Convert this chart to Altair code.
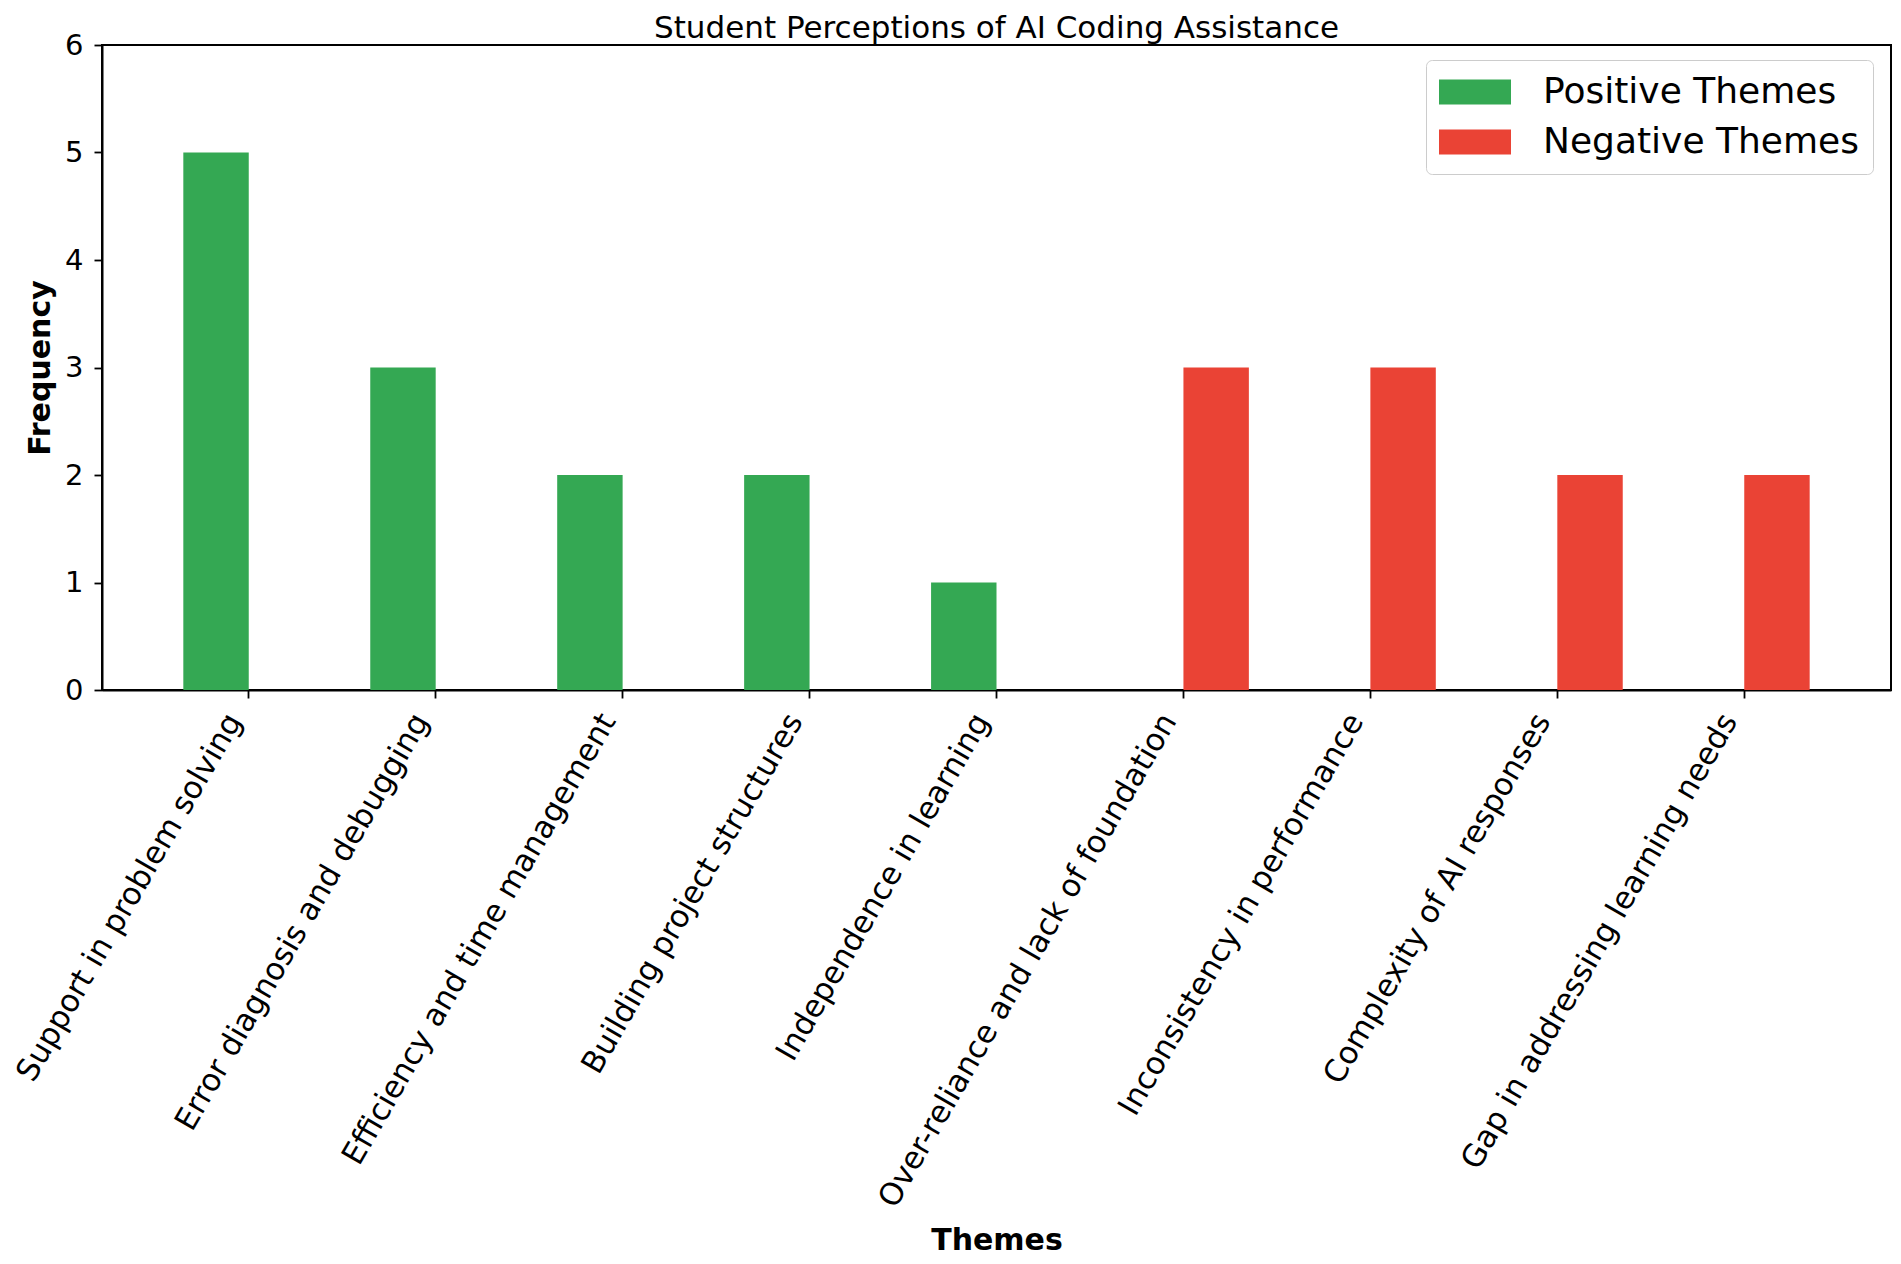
import altair as alt
import pandas as pd

themes = [
    "Support in problem solving",
    "Error diagnosis and debugging",
    "Efficiency and time management",
    "Building project structures",
    "Independence in learning",
    "Over-reliance and lack of foundation",
    "Inconsistency in performance",
    "Complexity of AI responses",
    "Gap in addressing learning needs",
]
types = ["Positive Themes"] * 5 + ["Negative Themes"] * 4
frequency = [5, 3, 2, 2, 1, 3, 3, 2, 2]
series = ["Positive Themes", "Negative Themes"]
colors = ["#34A853", "#EA4335"]
y_ticks = [0, 1, 2, 3, 4, 5, 6]

df = pd.DataFrame({"Theme": themes, "Type": types, "Frequency": frequency})

FONT = "DejaVu Sans"

chart = (
    alt.Chart(df)
    .mark_bar()
    .encode(
        x=alt.X(
            "Theme:N",
            sort=themes,
            scale=alt.Scale(paddingInner=0.3, paddingOuter=0.435),
            axis=alt.Axis(
                title="Themes",
                titleFontSize=30,
                titleFontWeight="bold",
                titleFont=FONT,
                titleColor="black",
                titleBaseline="alphabetic",
                titleY=559,
                labelAngle=300,
                labelAlign="right",
                labelBaseline="bottom",
                labelFontSize=31,
                labelFont=FONT,
                labelColor="black",
                labelPadding=26,
                labelLimit=1000,
                labelOverlap=False,
                tickSize=8,
                tickWidth=1.8,
                tickColor="black",
                domainColor="black",
                domainWidth=2,
                grid=False,
            ),
        ),
        xOffset=alt.XOffset(
            "Type:N",
            scale=alt.Scale(domain=series, paddingInner=0, paddingOuter=0),
        ),
        y=alt.Y(
            "Frequency:Q",
            scale=alt.Scale(domain=[0, 6], nice=False),
            axis=alt.Axis(
                title="Frequency",
                titleFontSize=30,
                titleFontWeight="bold",
                titleFont=FONT,
                titleColor="black",
                titleBaseline="alphabetic",
                titleX=-53,
                values=y_ticks,
                format="d",
                labelFontSize=29,
                labelFont=FONT,
                labelColor="black",
                labelPadding=11,
                tickSize=8,
                tickWidth=1.8,
                tickColor="black",
                domainColor="black",
                domainWidth=2,
                grid=False,
            ),
        ),
        color=alt.Color(
            "Type:N",
            scale=alt.Scale(domain=series, range=colors),
            legend=alt.Legend(
                title=None,
                orient="none",
                legendX=1324,
                legendY=15,
                labelFontSize=36,
                labelFont=FONT,
                labelColor="black",
                labelLimit=600,
                symbolType="M-2,-0.69L2,-0.69L2,0.69L-2,0.69Z",
                symbolSize=1296,
                symbolStrokeWidth=0,
                symbolOpacity=1,
                symbolOffset=17,
                labelOffset=50,
                rowPadding=14,
                padding=14,
                strokeColor="#cccccc",
                fillColor="rgba(255,255,255,0.8)",
                cornerRadius=6,
            ),
        ),
    )
    .properties(
        width=1789,
        height=645,
        background="white",
        title=alt.TitleParams(
            text="Student Perceptions of AI Coding Assistance",
            fontSize=31,
            font=FONT,
            fontWeight="normal",
            color="black",
            anchor="middle",
            frame="group",
            baseline="alphabetic",
            offset=-38,
        ),
        autosize=alt.AutoSizeParams(type="none"),
        padding={"left": 94, "top": 37, "right": 2, "bottom": 566},
    )
    .configure_view(stroke="black", strokeWidth=2)
)

chart.save("out.html", embed_options={"renderer": "svg", "actions": False})
